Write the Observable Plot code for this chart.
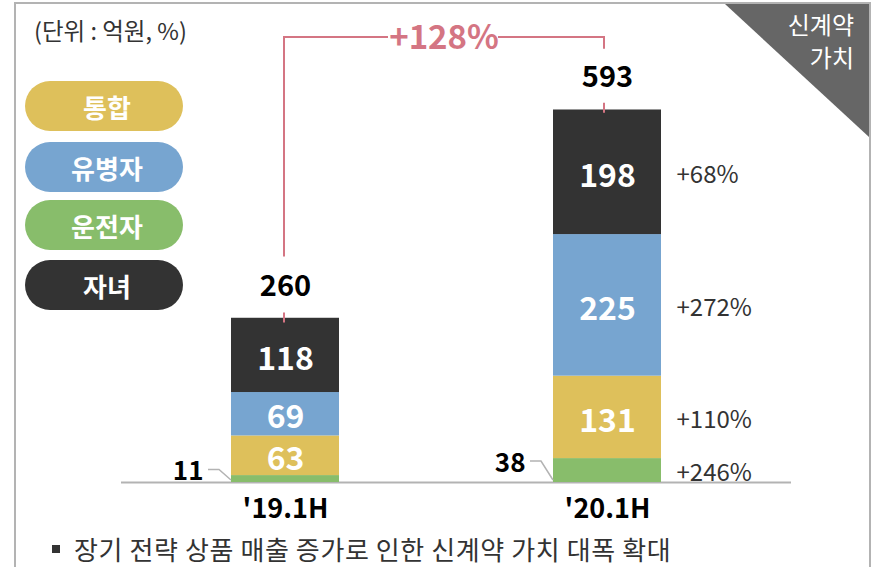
<!DOCTYPE html>
<html>
<head>
<meta charset="utf-8">
<script src="https://cdn.jsdelivr.net/npm/d3@7"></script>
<script src="https://cdn.jsdelivr.net/npm/@observablehq/plot@0.6"></script>
<style>
  html, body { margin: 0; padding: 0; background: #fff; overflow: hidden; }
  body { font-family: "Noto Sans CJK KR", "Noto Sans", sans-serif; }
  #wrap { position: relative; width: 879px; height: 567px; overflow: hidden; }
  #wrap svg { position: absolute; left: 0; top: 0; }
  .frame { position: absolute; left: 14px; top: 2px; width: 857px; height: 600px; box-sizing: border-box;
           border: 2px solid #b3b3b3; border-bottom: none; }
  .corner { position: absolute; left: 725px; top: 4px; width: 144px; height: 133px; background: #666;
            clip-path: polygon(0 0, 100% 0, 100% 100%); }
  .cornerText { position: absolute; right: 25px; top: 7px; color: #fff; font-size: 24px; line-height: 33px; text-align: right; }
  .unit { position: absolute; left: 34px; top: 15px; font-size: 23.5px; line-height: 30px; color: #333; }
  .pill { position: absolute; left: 25px; width: 158px; height: 50px; border-radius: 25px; color: #fff;
          font-weight: bold; font-size: 26px; display: flex; align-items: center; justify-content: center;
          box-sizing: border-box; padding-left: 6px; }
  .bullet { position: absolute; left: 52px; top: 545px; width: 8px; height: 8px; background: #333; }
  .foot { position: absolute; left: 74px; top: 532px; font-size: 26px; line-height: 34px; color: #333; letter-spacing: 0.6px; white-space: nowrap; }
</style>
</head>
<body>
<div id="wrap"></div>
<script>
// ---- data ----
const periods = ["'19.1H", "'20.1H"];
const segments = ["운전자", "통합", "유병자", "자녀"];           // stack order, bottom to top
const segmentColors = ["#88BD6B", "#DEC05B", "#77A5D0", "#333333"];
const values19 = [11, 63, 69, 118];
const values20 = [38, 131, 225, 198];
const totals = [260, 593];
const growth20 = ["+246%", "+110%", "+272%", "+68%"];
const totalGrowth = "+128%";
const legendOrder = ["통합", "유병자", "운전자", "자녀"];
const unitLabel = "(단위 : 억원, %)";
const cornerLines = ["신계약", "가치"];
const footnote = "장기 전략 상품 매출 증가로 인한 신계약 가치 대폭 확대";

const seriesValues = [values19, values20];
const rows = periods.flatMap((p, i) => segments.map((s, j) => ({
  period: p, segment: s, value: seriesValues[i][j], growth: i === 1 ? growth20[j] : null
})));
const totalRows = periods.map((p, i) => ({period: p, total: totals[i]}));
const colorOf = Object.fromEntries(segments.map((s, i) => [s, segmentColors[i]]));

const PINK = "#D47583";
const GRAY = "#b3b3b3";

// bracket & leader lines drawn through the plot's scales
function decorations(index, scales) {
  const x = scales.x, y = scales.y;
  const bw = x.bandwidth ? x.bandwidth() : 0;
  const cx = p => x(p) + bw / 2;
  const g = d3.create("svg:g");
  // leader lines for the small bottom segment labels
  rows.filter(d => d.segment === segments[0]).forEach(d => {
    const left = x(d.period);
    const ym = y(d.value / 2) - 9;
    g.append("path")
      .attr("d", `M${left - 23},${ym} H${left - 12} L${left},${y(0) - 2}`)
      .attr("fill", "none").attr("stroke", GRAY).attr("stroke-width", 1.5);
  });
  // bracket
  const x0 = cx(periods[0]) - 1, x1 = cx(periods[1]) - 3;
  const yTop = 37;
  const ya = y(totals[0]) - 62, yb = y(totals[1]) - 60;
  const xm = (x0 + x1) / 2;
  g.append("path")
    .attr("d", `M${x0},${ya} V${yTop} H${xm - 56} M${xm + 54},${yTop} H${x1} V${yb}`)
    .attr("fill", "none").attr("stroke", PINK).attr("stroke-width", 2);
  g.append("text").attr("x", xm).attr("y", yTop).attr("dy", "0.36em")
    .attr("text-anchor", "middle").attr("fill", PINK)
    .attr("font-size", 33).attr("font-weight", "bold").text(totalGrowth);
  // small ticks at bar tops
  [[x0, totals[0]], [x1, totals[1]]].forEach(([xx, t]) => {
    g.append("line").attr("x1", xx).attr("x2", xx).attr("y1", y(t) - 6).attr("y2", y(t) + 4)
      .attr("stroke", PINK).attr("stroke-width", 2);
  });
  return g.node();
}

const chart = Plot.plot({
  width: 879,
  height: 567,
  marginTop: 0,
  marginBottom: 85,
  marginLeft: 121,
  marginRight: 88,
  style: {fontFamily: "'Noto Sans CJK KR', 'Noto Sans', sans-serif", background: "transparent", color: "#000", overflow: "visible"},
  x: {domain: periods, paddingInner: 0.6656, paddingOuter: 0.37, align: 0.456},
  y: {domain: [0, 766], axis: null},
  color: {domain: segments, range: segmentColors},
  marks: [
    Plot.ruleY([0], {stroke: GRAY, strokeWidth: 2}),
    Plot.barY(rows, Plot.stackY({x: "period", y: "value", fill: "segment", order: segments})),
    Plot.text(rows, Plot.stackY({
      x: "period", y: "value", z: "segment", order: segments,
      text: d => d.segment === segments[0] ? null : String(d.value),
      dy: 4, fill: "white", fontSize: 32, fontWeight: "bold"
    })),
    Plot.text(rows.filter(d => d.segment === segments[0]), Plot.stackY({
      x: "period", y: "value", text: d => String(d.value),
      textAnchor: "end", dx: -82, dy: -7, fill: "#000", fontSize: 26, fontWeight: "bold"
    })),
    Plot.text(rows, Plot.stackY({
      x: "period", y: "value", z: "segment", order: segments,
      text: "growth", textAnchor: "start", dx: 69, dy: 3, fill: "#333", fontSize: 24
    })),
    Plot.text(totalRows, {
      x: "period", y: "total", text: d => String(d.total), dy: -32,
      fill: "#000", fontSize: 29, fontWeight: "bold"
    }),
    Plot.axisX({tickSize: 0, tickPadding: 16, fontSize: 27, fontWeight: "bold", label: null}),
    decorations
  ]
});

const wrap = document.getElementById("wrap");
wrap.appendChild(chart);

// frame, corner tag, unit, legend, footnote
const frame = document.createElement("div"); frame.className = "frame"; wrap.appendChild(frame);
const corner = document.createElement("div"); corner.className = "corner"; wrap.appendChild(corner);
const ct = document.createElement("div"); ct.className = "cornerText"; ct.innerHTML = cornerLines.join("<br>"); wrap.appendChild(ct);
const unit = document.createElement("div"); unit.className = "unit"; unit.textContent = unitLabel; wrap.appendChild(unit);
const pillTops = [81, 142, 200, 260];
legendOrder.forEach((s, i) => {
  const p = document.createElement("div");
  p.className = "pill";
  p.style.top = pillTops[i] + "px";
  p.style.background = colorOf[s];
  p.textContent = s;
  wrap.appendChild(p);
});
const b = document.createElement("div"); b.className = "bullet"; wrap.appendChild(b);
const f = document.createElement("div"); f.className = "foot"; f.textContent = footnote; wrap.appendChild(f);
</script>
</body>
</html>
